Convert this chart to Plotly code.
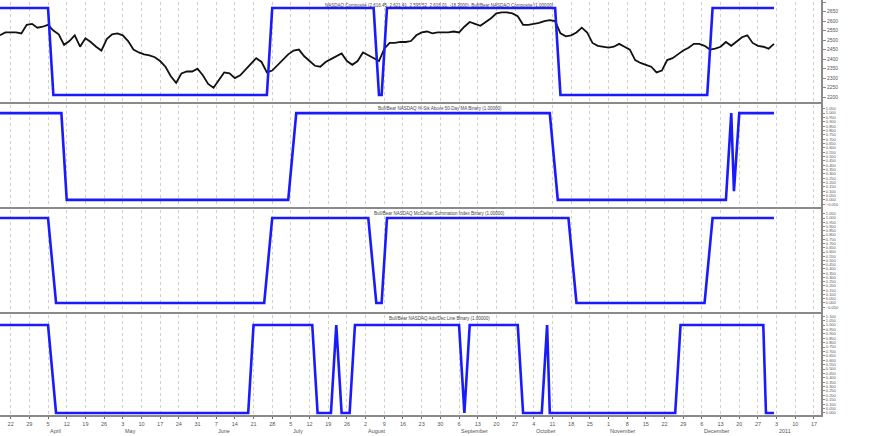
import plotly.graph_objects as go
import pandas as pd

# ---- data ----
price_start = "2010-03-18"
price_vals = [2525, 2540, 2540, 2540, 2535, 2580, 2585, 2565, 2570, 2580,
              2550, 2530, 2475, 2495, 2525, 2465, 2510, 2490, 2465, 2445,
              2505, 2530, 2535, 2525, 2495, 2450, 2435, 2425, 2420, 2410,
              2390, 2360, 2310, 2275, 2325, 2335, 2335, 2350, 2315, 2270,
              2250, 2290, 2330, 2325, 2300, 2315, 2345, 2380, 2405, 2385,
              2330, 2340, 2370, 2400, 2425, 2445, 2450, 2415, 2390, 2365,
              2360, 2385, 2400, 2415, 2430, 2390, 2370, 2390, 2435, 2420,
              2405, 2390, 2455, 2485, 2485, 2490, 2490, 2495, 2525, 2540,
              2545, 2535, 2540, 2540, 2540, 2545, 2540, 2570, 2595, 2585,
              2575, 2595, 2615, 2640, 2645, 2645, 2640, 2625, 2580, 2580,
              2585, 2590, 2600, 2605, 2600, 2535, 2520, 2525, 2540, 2565,
              2540, 2485, 2470, 2465, 2460, 2465, 2480, 2465, 2450, 2395,
              2380, 2370, 2360, 2330, 2340, 2395, 2405, 2425, 2445, 2460,
              2480, 2480, 2470, 2450, 2455, 2465, 2490, 2470, 2495, 2515,
              2525, 2485, 2470, 2465, 2455, 2480]
price_dates = pd.date_range(price_start, periods=len(price_vals), freq="2D")

b1_dates = ["2010-03-18", "2010-04-05", "2010-04-07", "2010-06-26", "2010-06-28",
            "2010-08-05", "2010-08-07", "2010-08-08", "2010-08-10", "2010-10-12",
            "2010-10-14", "2010-12-08", "2010-12-10", "2011-01-02"]
b1_vals = [1, 1, 0, 0, 1, 1, 0, 0, 1, 1, 0, 0, 1, 1]

b2_dates = ["2010-03-18", "2010-04-10", "2010-04-12", "2010-07-04", "2010-07-07",
            "2010-10-10", "2010-10-13", "2010-12-15", "2010-12-17", "2010-12-18",
            "2010-12-20", "2011-01-02"]
b2_vals = [1, 1, 0, 0, 1, 1, 0, 0, 1, 0.1, 1, 1]

b3_dates = ["2010-03-18", "2010-04-05", "2010-04-08", "2010-06-25", "2010-06-28",
            "2010-08-03", "2010-08-06", "2010-08-08", "2010-08-10", "2010-10-17",
            "2010-10-20", "2010-12-07", "2010-12-10", "2011-01-02"]
b3_vals = [1, 1, 0, 0, 1, 1, 0, 0, 1, 1, 0, 0, 1, 1]

b4_dates = ["2010-03-18", "2010-04-05", "2010-04-08", "2010-06-19", "2010-06-21",
            "2010-07-13", "2010-07-15", "2010-07-20", "2010-07-22", "2010-07-24",
            "2010-07-27", "2010-07-29", "2010-09-06", "2010-09-08", "2010-09-10",
            "2010-09-28", "2010-09-30", "2010-10-07", "2010-10-09", "2010-10-10",
            "2010-11-26", "2010-11-28", "2010-12-29", "2010-12-30", "2011-01-02"]
b4_vals = [1, 1, 0, 0, 1, 1, 0, 0, 1, 0, 0, 1, 1, 0, 1, 1, 0, 0, 1, 0, 0, 1, 1, 0, 0]

titles = [
    "NASDAQ Composite (2,616.45, 2,621.41, 2,595.52, 2,616.01, -18.3000), Bull/Bear NASDAQ Composite (1.00000)",
    "Bull/Bear NASDAQ %-Stk Above 50-Day MA Binary (1.00000)",
    "Bull/Bear NASDAQ McClellan Summation Index Binary (1.00000)",
    "Bull/Bear NASDAQ Adv/Dec Line Binary (1.00000)",
]

week_ticks = pd.date_range("2010-03-22", "2011-01-17", freq="7D")
month_names = {4: "April", 5: "May", 6: "June", 7: "July", 8: "August", 9: "September",
               10: "October", 11: "November", 12: "December", 1: "2011"}

# ---- layout helpers ----
W, H = 873, 436
ML, MR, MT, MB = 0, 51, 0, 20
PH = H - MT - MB

def py(px):
    return 1 - px / PH

panels = [(2, 101), (105, 206), (210, 311), (315, 415)]
doms = [[py(b), py(t)] for t, b in panels]

ticktext = [str(d.day) for d in week_ticks]
month_ticks = []
prev_month = 3
for d in week_ticks:
    if d.month != prev_month and d.month in month_names:
        month_ticks.append((d, month_names[d.month]))
    prev_month = d.month

fig = go.Figure()
BLUE = "#1a1aff"

fig.add_trace(go.Scatter(x=b1_dates, y=b1_vals, mode="lines", line=dict(color=BLUE, width=2.6),
                         xaxis="x", yaxis="y5", showlegend=False))
fig.add_trace(go.Scatter(x=price_dates, y=price_vals, mode="lines", line=dict(color="#111111", width=1.8),
                         xaxis="x", yaxis="y", showlegend=False))
fig.add_trace(go.Scatter(x=b2_dates, y=b2_vals, mode="lines", line=dict(color=BLUE, width=2.6),
                         xaxis="x2", yaxis="y2", showlegend=False))
fig.add_trace(go.Scatter(x=b3_dates, y=b3_vals, mode="lines", line=dict(color=BLUE, width=2.6),
                         xaxis="x3", yaxis="y3", showlegend=False))
fig.add_trace(go.Scatter(x=b4_dates, y=b4_vals, mode="lines", line=dict(color=BLUE, width=2.6),
                         xaxis="x4", yaxis="y4", showlegend=False))

xr = ["2010-03-18", "2011-01-20"]
xcommon = dict(range=xr, type="date", tickmode="array", tickvals=list(week_ticks),
               showgrid=True, gridcolor="#cfcfcf", griddash="dot", gridwidth=1,
               zeroline=False, showline=False, automargin=False)
lab = dict(family="Arial", size=5.5, color="#555555")
ycommon = dict(side="right", showgrid=False, zeroline=False, automargin=False,
               ticks="outside", tickcolor="#888")
small = dict(family="Arial", size=4, color="#555")
layout = dict(
    width=W, height=H, margin=dict(l=ML, r=MR, t=MT, b=MB, autoexpand=False),
    paper_bgcolor="white", plot_bgcolor="white",
    xaxis=dict(**xcommon, anchor="y", showticklabels=False),
    xaxis2=dict(**xcommon, anchor="y2", showticklabels=False),
    xaxis3=dict(**xcommon, anchor="y3", showticklabels=False),
    xaxis4=dict(**xcommon, anchor="y4", showticklabels=True, ticktext=ticktext, tickangle=0,
                ticks="outside", ticklen=3, tickcolor="#666", tickfont=lab),
    yaxis=dict(**ycommon, domain=doms[0], anchor="x", range=[2180, 2700], dtick=50, ticklen=3,
               tickfont=dict(family="Arial", size=5, color="#555")),
    yaxis5=dict(overlaying="y", anchor="x", range=[-0.068, 1.068], visible=False),
    yaxis2=dict(**ycommon, domain=doms[1], anchor="x2", range=[-0.07, 1.093], dtick=0.05,
                tickformat=".3f", ticklen=2, tickfont=small),
    yaxis3=dict(**ycommon, domain=doms[2], anchor="x3", range=[-0.095, 1.095], dtick=0.05,
                tickformat=".3f", ticklen=2, tickfont=small),
    yaxis4=dict(**ycommon, domain=doms[3], anchor="x4", range=[-0.023, 1.114], dtick=0.05,
                tickformat=".3f", ticklen=2, tickfont=small),
)
fig.update_layout(**layout)

# panel frames
shapes = []
for t in [103, 208, 313, 416]:
    shapes.append(dict(type="line", xref="paper", yref="paper", x0=0, x1=1, y0=py(t), y1=py(t),
                       line=dict(color="#8a8a8a", width=2)))
shapes.append(dict(type="line", xref="paper", yref="paper", x0=1, x1=1, y0=py(417), y1=1,
                   line=dict(color="#8a8a8a", width=2)))
fig.update_layout(shapes=shapes)

for i, (t, b) in enumerate(panels):
    fig.add_annotation(text=titles[i], xref="paper", yref="paper", x=0.535, y=py(t - 1),
                       xanchor="center", yanchor="top", showarrow=False,
                       font=dict(family="Arial", size=4.5, color="#444"))

for d, name in month_ticks:
    fig.add_annotation(text=name, xref="x4", yref="paper", x=d, y=py(426),
                       xanchor="left", yanchor="top", showarrow=False,
                       font=dict(family="Arial", size=5.5, color="#555"))

fig.write_html("out.html", config={"displayModeBar": False},
               post_script="document.body.style.margin='0';document.body.style.overflow='hidden';")
